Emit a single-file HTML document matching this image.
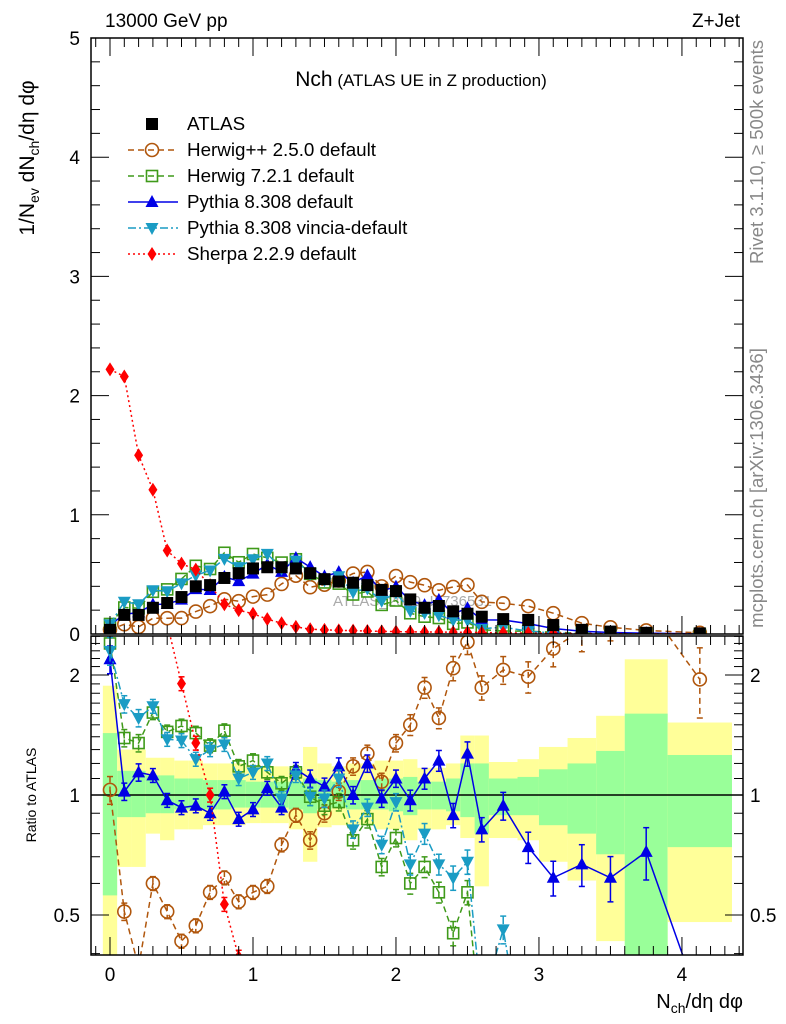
<!DOCTYPE html>
<html><head><meta charset="utf-8">
<style>
html,body{margin:0;padding:0;background:#fff;width:786px;height:1024px;overflow:hidden;position:relative;}
svg{display:block;font-family:"Liberation Sans",Arial,sans-serif;}
</style></head>
<body>
<svg id="c" width="786" height="1024" viewBox="0 0 786 1024" xmlns="http://www.w3.org/2000/svg"></svg>
<script>
// ---- data ----
const xCenters=[0,0.1,0.2,0.3,0.4,0.5,0.6,0.7,0.8,0.9,1.0,1.1,1.2,1.3,1.4,1.5,1.6,1.7,1.8,1.9,2.0,2.1,2.2,2.3,2.4,2.5,2.6,2.75,2.925,3.1,3.3,3.5,3.75,4.125];
const binLo=[-0.05,0.05,0.15,0.25,0.35,0.45,0.55,0.65,0.75,0.85,0.95,1.05,1.15,1.25,1.35,1.45,1.55,1.65,1.75,1.85,1.95,2.05,2.15,2.25,2.35,2.45,2.55,2.65,2.85,3.0,3.2,3.4,3.6,3.9];
const binHi=[0.05,0.15,0.25,0.35,0.45,0.55,0.65,0.75,0.85,0.95,1.05,1.15,1.25,1.35,1.45,1.55,1.65,1.75,1.85,1.95,2.05,2.15,2.25,2.35,2.45,2.55,2.65,2.85,3.0,3.2,3.4,3.6,3.9,4.35];
const atlas=[0.035,0.16,0.16,0.22,0.26,0.31,0.40,0.41,0.47,0.51,0.55,0.56,0.56,0.55,0.51,0.46,0.44,0.43,0.41,0.37,0.36,0.29,0.22,0.235,0.19,0.17,0.145,0.125,0.118,0.075,0.035,0.02,0.01,0.005];
const bandYHi=[1.88,1.30,1.30,1.24,1.24,1.22,1.22,1.20,1.20,1.20,1.18,1.18,1.18,1.17,1.32,1.20,1.18,1.20,1.20,1.22,1.22,1.23,1.17,1.17,1.20,1.41,1.41,1.21,1.23,1.32,1.39,1.58,2.19,1.52];
const bandYLo=[0.38,0.66,0.66,0.80,0.77,0.82,0.82,0.84,0.84,0.84,0.85,0.85,0.85,0.82,0.68,0.83,0.84,0.84,0.84,0.82,0.82,0.77,0.82,0.82,0.84,0.78,0.59,0.78,0.77,0.68,0.61,0.43,0.30,0.48];
const bandGHi=[1.43,1.15,1.15,1.12,1.12,1.10,1.10,1.09,1.09,1.09,1.08,1.08,1.08,1.08,1.10,1.09,1.08,1.09,1.09,1.10,1.10,1.11,1.08,1.08,1.10,1.20,1.20,1.10,1.11,1.16,1.20,1.29,1.60,1.26];
const bandGLo=[0.56,0.88,0.88,0.90,0.90,0.92,0.92,0.92,0.92,0.93,0.93,0.93,0.93,0.92,0.90,0.92,0.93,0.92,0.92,0.92,0.91,0.89,0.92,0.92,0.91,0.88,0.80,0.89,0.89,0.84,0.80,0.71,0.37,0.74];
const ratioHerwigPP=[1.03,0.51,0.37,0.60,0.51,0.43,0.47,0.57,0.62,0.54,0.57,0.59,0.75,0.89,0.77,0.90,1.02,1.18,1.27,1.08,1.35,1.50,1.86,1.56,2.08,2.42,1.86,2.06,1.98,2.33,2.6,2.8,3.0,1.95];
const ratioHerwig7=[2.4,1.39,1.35,1.61,1.44,1.49,1.43,1.33,1.45,1.18,1.22,1.14,1.07,1.14,0.99,0.94,0.96,0.77,0.87,0.66,0.78,0.60,0.66,0.57,0.45,0.57,0.25,0.2,0.2,0.2,0.2,0.2,0.2,0.2];
const ratioPythia=[2.19,1.02,1.14,1.12,0.97,0.93,0.94,0.90,1.02,0.87,0.92,1.04,0.93,1.16,1.10,1.05,1.18,1.0,1.2,0.98,1.10,0.97,1.10,1.22,0.89,1.27,0.82,0.94,0.74,0.62,0.67,0.62,0.72,0.30];
const ratioVincia=[2.3,1.69,1.56,1.67,1.38,1.37,1.23,1.30,1.34,1.10,1.14,1.20,0.98,1.12,0.99,0.98,1.10,0.82,0.93,0.75,0.96,0.67,0.80,0.67,0.62,0.68,0.30,0.46,0.2,0.1,0.1,0.1,0.1,0.1];
const sherpa=[2.22,2.16,1.50,1.21,0.70,0.59,0.54,0.41,0.25,0.20,0.17,0.125,0.09,0.06,0.04,0.035,0.03,0.028,0.025,0.022,0.02,0.018,0.017,0.016,0.015,0.015,0.012,0.01,0.008,0.006,0.004,0.003,0.002,0.001];
const relErr=[0.08,0.05,0.05,0.04,0.04,0.04,0.04,0.04,0.04,0.04,0.04,0.04,0.04,0.04,0.05,0.05,0.05,0.05,0.05,0.05,0.05,0.06,0.06,0.06,0.07,0.07,0.07,0.08,0.09,0.10,0.12,0.13,0.15,0.2];
const yTicksUpper=[0,1,2,3,4,5];
const xTicks=[0,1,2,3,4];
const ratioTicks=[0.5,1,2];

// ---- geometry ----
const L=91,R=743,UT=38,UB=634,LT=636,LB=955;
const XMIN=-0.1329,XMAX=4.427;
const sx=v=>L+(v-XMIN)/(XMAX-XMIN)*(R-L);
const syU=v=>UB-v/5*(UB-UT);
const syR=v=>795-Math.log10(v)*398.6;
const NS="http://www.w3.org/2000/svg";
const svg=document.getElementById('c');
function el(tag,attrs,parent){const e=document.createElementNS(NS,tag);for(const k in attrs)e.setAttribute(k,attrs[k]);(parent||svg).appendChild(e);return e;}

const defs=el('defs',{});
const cu=el('clipPath',{id:'cu'},defs);el('rect',{x:L,y:UT,width:R-L,height:UB-UT},cu);
const cl=el('clipPath',{id:'cl'},defs);el('rect',{x:L,y:LT,width:R-L,height:LB-LT},cl);

const gBand=el('g',{'clip-path':'url(#cl)'});


for(let i=0;i<xCenters.length;i++){
  const r1=el('rect',{x:sx(binLo[i]),y:syR(bandYHi[i]),width:sx(binHi[i])-sx(binLo[i]),height:syR(bandYLo[i])-syR(bandYHi[i]),fill:'#ffff99'},gBand);
  
  
  const r2=el('rect',{x:sx(binLo[i]),y:syR(bandGHi[i]),width:sx(binHi[i])-sx(binLo[i]),height:syR(bandGLo[i])-syR(bandGHi[i]),fill:'#99ff99'},gBand);
  
  
}
el('line',{x1:L,x2:R,y1:syR(1),y2:syR(1),stroke:'#000','stroke-width':1.5});

const wm=el('text',{x:333,y:606,'font-size':15,fill:'#aaa'});wm.textContent='ATLAS_2019_I1736531';



function marker(g,type,x,y,c){
  const s=6;
  if(type==='sq') el('rect',{x:x-s,y:y-s,width:2*s,height:2*s,fill:'#000'},g);
  else if(type==='osq') el('rect',{x:x-5.5,y:y-5.5,width:11,height:11,fill:'none',stroke:c,'stroke-width':1.6},g);
  else if(type==='oc') el('circle',{cx:x,cy:y,r:6.5,fill:'none',stroke:c,'stroke-width':1.6},g);
  else if(type==='tu') el('polygon',{points:`${x},${y-7} ${x-6.5},${y+5} ${x+6.5},${y+5}`,fill:c},g);
  else if(type==='td') el('polygon',{points:`${x},${y+7} ${x-6.5},${y-5} ${x+6.5},${y-5}`,fill:c},g);
  else if(type==='di') el('polygon',{points:`${x},${y-7} ${x-4.5},${y} ${x},${y+7} ${x+4.5},${y}`,fill:c},g);
}
const series=[
 {name:'herwigpp',ratio:ratioHerwigPP,c:'#b0560c',m:'oc',dash:'6,4',label:'Herwig++ 2.5.0 default'},
 {name:'herwig7',ratio:ratioHerwig7,c:'#3f9a1a',m:'osq',dash:'6,4',label:'Herwig 7.2.1 default'},
 {name:'pythia',ratio:ratioPythia,c:'#0000e6',m:'tu',dash:'',label:'Pythia 8.308 default'},
 {name:'vincia',ratio:ratioVincia,c:'#1a9cc4',m:'td',dash:'8,3,2,3',label:'Pythia 8.308 vincia-default'},
 {name:'sherpa',abs:sherpa,c:'#ff0000',m:'di',dash:'2,3',label:'Sherpa 2.2.9 default'}
];
const gU=el('g',{'clip-path':'url(#cu)'});


const gL=el('g',{'clip-path':'url(#cl)'});


series.forEach(s=>{
  const vals=s.abs?s.abs:s.ratio.map((r,i)=>r*atlas[i]);
  const rat=s.abs?s.abs.map((v,i)=>v/atlas[i]):s.ratio;
  const g=el('g',{},gU);
  
  
  el('polyline',{points:xCenters.map((x,i)=>sx(x)+','+syU(vals[i])).join(' '),fill:'none',stroke:s.c,'stroke-width':1.5,'stroke-dasharray':s.dash},g);
  xCenters.forEach((x,i)=>marker(g,s.m,sx(x),syU(vals[i]),s.c));
  const g2=el('g',{},gL);
  
  
  el('polyline',{points:xCenters.map((x,i)=>sx(x)+','+syR(rat[i])).join(' '),fill:'none',stroke:s.c,'stroke-width':1.5,'stroke-dasharray':s.dash},g2);
  xCenters.forEach((x,i)=>{
    const e=relErr[i]*rat[i];
    const X=sx(x);
    el('line',{x1:X,x2:X,y1:syR(rat[i]+e),y2:syR(Math.max(rat[i]-e,0.01)),stroke:s.c,'stroke-width':1.5,'stroke-dasharray':s.dash},g2);
    el('line',{x1:X-3,x2:X+3,y1:syR(rat[i]+e),y2:syR(rat[i]+e),stroke:s.c,'stroke-width':1.5},g2);
    el('line',{x1:X-3,x2:X+3,y1:syR(Math.max(rat[i]-e,0.01)),y2:syR(Math.max(rat[i]-e,0.01)),stroke:s.c,'stroke-width':1.5},g2);
    marker(g2,s.m,X,syR(rat[i]),s.c);
  });
});
const gA=el('g',{},gU);


xCenters.forEach((x,i)=>marker(gA,'sq',sx(x),syU(atlas[i]),'#000'));

el('rect',{x:L,y:UT,width:R-L,height:UB-UT,fill:'none',stroke:'#000','stroke-width':1.5});
el('rect',{x:L,y:LT,width:R-L,height:LB-LT,fill:'none',stroke:'#000','stroke-width':1.5});

for(let k=-1;k<=44;k++){
  const v=k/10;if(v<XMIN||v>XMAX)continue;
  const major=k%10===0;const len=major?18:9;const X=sx(v);
  [[UB,-1],[UT,1],[LB,-1],[LT,1]].forEach(([y,d])=>el('line',{x1:X,x2:X,y1:y,y2:y+d*len,stroke:'#000','stroke-width':1}));
}
xTicks.forEach(v=>{const t=el('text',{x:sx(v),y:981,'font-size':19,'text-anchor':'middle'});t.textContent=v;
 
 });
for(let k=0;k<=25;k++){
  const v=k/5;const major=k%5===0;const len=major?18:9;const Y=syU(v);
  el('line',{x1:L,x2:L+len,y1:Y,y2:Y,stroke:'#000'});
  el('line',{x1:R,x2:R-len,y1:Y,y2:Y,stroke:'#000'});
}
yTicksUpper.forEach(v=>{const t=el('text',{x:80,y:syU(v)+7,'font-size':19,'text-anchor':'end'});t.textContent=v;
 
 });
const minor=[0.4,0.5,0.6,0.7,0.8,0.9,1,1.1,1.2,1.3,1.4,1.5,1.6,1.7,1.8,1.9,2,2.1,2.2,2.3,2.4,2.5];
minor.forEach(v=>{const Y=syR(v);if(Y<LT||Y>LB)return;const len=(v===0.5||v===1||v===2)?18:9;
  el('line',{x1:L,x2:L+len,y1:Y,y2:Y,stroke:'#000'});el('line',{x1:R,x2:R-len,y1:Y,y2:Y,stroke:'#000'});});
ratioTicks.forEach(v=>{
  const t=el('text',{x:80,y:syR(v)+7,'font-size':19,'text-anchor':'end'});t.textContent=v;
  
  
  const t2=el('text',{x:750,y:syR(v)+7,'font-size':19});t2.textContent=v;
  
  
});

const legY=[124,150,176,202,228,254];
const gLeg=el('g',{});


const legItems=[{label:'ATLAS',m:'sq',c:'#000',dash:null}].concat(series);
legItems.forEach((s,i)=>{
  const g=el('g',{},gLeg);
  
  
  const y=legY[i];
  if(s.dash!==null) el('line',{x1:128,x2:178,y1:y,y2:y,stroke:s.c,'stroke-width':1.5,'stroke-dasharray':s.dash},g);
  marker(g,s.m,152,y,s.c);
  const t=el('text',{x:187,y:y+6,'font-size':18.8},g);t.textContent=s.label;
});
</script>
<svg width="786" height="1024" style="position:absolute;left:0;top:0" xmlns="http://www.w3.org/2000/svg" font-family="Liberation Sans, Arial, sans-serif">
<text x="105" y="27" font-size="19">13000 GeV pp</text>
<text x="740" y="27" font-size="19" text-anchor="end">Z+Jet</text>
<text x="421" y="86" text-anchor="middle"><tspan font-size="21">Nch</tspan><tspan font-size="17"> (ATLAS UE in Z production)</tspan></text>
<text transform="translate(763,152) rotate(-90)" font-size="18.5" fill="#888" text-anchor="middle">Rivet 3.1.10, ≥ 500k events</text>
<text transform="translate(763,488) rotate(-90)" font-size="18.5" fill="#888" text-anchor="middle">mcplots.cern.ch [arXiv:1306.3436]</text>
<text transform="translate(34,158) rotate(-90)" font-size="21" text-anchor="middle">1/N<tspan font-size="14" dy="5">ev</tspan><tspan dy="-5"> dN</tspan><tspan font-size="14" dy="5">ch</tspan><tspan dy="-5">/dη dφ</tspan></text>
<text transform="translate(36,795) rotate(-90)" font-size="14" text-anchor="middle">Ratio to ATLAS</text>
<text x="743" y="1008" font-size="20" text-anchor="end">N<tspan font-size="14" dy="5">ch</tspan><tspan dy="-5">/dη dφ</tspan></text>
</svg>
</body></html>
